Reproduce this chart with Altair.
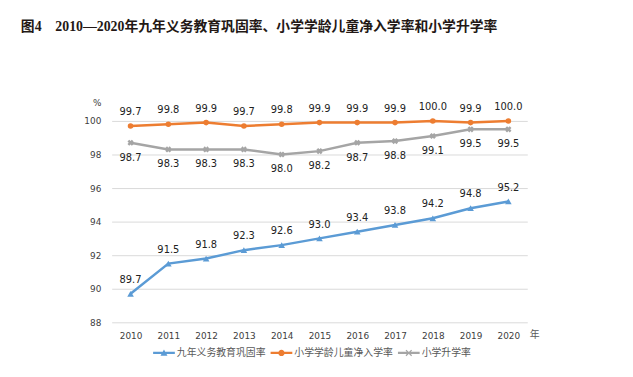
import altair as alt
import pandas as pd

years = [str(y) for y in range(2010, 2021)]
series_names = ["九年义务教育巩固率", "小学学龄儿童净入学率", "小学升学率"]
consolidation = [89.7, 91.5, 91.8, 92.3, 92.6, 93.0, 93.4, 93.8, 94.2, 94.8, 95.2]
enrollment = [99.7, 99.8, 99.9, 99.7, 99.8, 99.9, 99.9, 99.9, 100.0, 99.9, 100.0]
promotion = [98.7, 98.3, 98.3, 98.3, 98.0, 98.2, 98.7, 98.8, 99.1, 99.5, 99.5]
colors = ["#5B9BD5", "#ED7D31", "#A5A5A5"]
y_ticks = [88, 90, 92, 94, 96, 98, 100]
title_text = "图4　2010—2020年九年义务教育巩固率、小学学龄儿童净入学率和小学升学率"

rows = []
for name, vals in zip(series_names, [consolidation, enrollment, promotion]):
    for yr, v in zip(years, vals):
        rows.append({"year": yr, "series": name, "value": v})
df = pd.DataFrame(rows)

NUM_FONT = "DejaVu Sans"
CJK_FONT = "Noto Sans CJK SC"

# legend symbols: a short line with the marker in its middle
legend_paths = [
    "M-1,-0.11H1V0.11H-1Z M0,-0.32L0.32,0.26L-0.32,0.26Z",
    "M-1,-0.11H1V0.11H-1Z M-0.29,0A0.29,0.29 0 1,1 0.29,0A0.29,0.29 0 1,1 -0.29,0Z",
    "M-1,-0.11H1V0.11H-1Z M-0.3,-0.22L-0.22,-0.3L0.3,0.22L0.22,0.3Z M-0.22,0.3L-0.3,0.22L0.22,-0.3L0.3,-0.22Z",
]

color_scale = alt.Scale(domain=series_names, range=colors)
legend_def = alt.Legend(
    title=None, orient="none", legendX=42, legendY=224, direction="horizontal",
    symbolSize=484, symbolStrokeWidth=0, symbolOpacity=1, labelOffset=2,
    columnPadding=5, padding=0, labelFont=CJK_FONT, labelFontSize=10,
    labelColor="#595959", labelLimit=0,
)

base = alt.Chart(df).encode(
    x=alt.X(
        "year:O",
        scale=alt.Scale(type="point", padding=0.5),
        axis=alt.Axis(
            title="年", labelAngle=0, ticks=False, domain=False, grid=False,
            labelFont=NUM_FONT, labelFontSize=9, labelColor="#404040", labelPadding=9,
            titleFont=CJK_FONT, titleFontSize=10, titleFontWeight="normal", titleColor="#595959",
            titleX=428, titleY=12, titleAlign="center", titleBaseline="middle",
        ),
    ),
    y=alt.Y(
        "value:Q",
        scale=alt.Scale(domain=[88, 100], nice=False, zero=False),
        axis=alt.Axis(
            values=y_ticks, title="%", ticks=False, domain=False, grid=True,
            gridColor="#D9D9D9", gridWidth=1,
            labelFont=NUM_FONT, labelFontSize=9, labelColor="#404040", labelPadding=11,
            titleFont=NUM_FONT, titleFontSize=9, titleFontWeight="normal", titleColor="#404040",
            titleAngle=0, titleX=-15, titleY=-19, titleAlign="center", titleBaseline="middle",
        ),
    ),
    color=alt.Color("series:N", scale=color_scale, legend=legend_def),
)

legend_layer = base.mark_point(filled=True, opacity=0).encode(
    shape=alt.Shape("series:N", scale=alt.Scale(domain=series_names, range=legend_paths), legend=legend_def),
)

lines = base.mark_line(strokeWidth=2.5)

marker_specs = [("triangle-up", 45, 0), ("circle", 32, 0), ("cross", 40, 45)]
markers = []
for name, (shape, size, angle) in zip(series_names, marker_specs):
    markers.append(
        base.transform_filter(alt.datum.series == name).mark_point(
            shape=shape, size=size, angle=angle, filled=True, opacity=1
        )
    )

labels_above = base.transform_filter(
    alt.FieldOneOfPredicate(field="series", oneOf=series_names[:2])
).mark_text(dy=-14, font=NUM_FONT, fontSize=10).encode(
    text=alt.Text("value:Q", format=".1f"), color=alt.value("#222222")
)
labels_below = base.transform_filter(alt.datum.series == series_names[2]).mark_text(
    dy=15, font=NUM_FONT, fontSize=10
).encode(text=alt.Text("value:Q", format=".1f"), color=alt.value("#222222"))

chart = alt.layer(legend_layer, lines, *markers, labels_above, labels_below).properties(
    width=421,
    height=204,
    autosize=alt.AutoSizeParams(type="none"),
    padding={"left": 105, "top": 112, "right": 99, "bottom": 53},
    title=alt.TitleParams(
        text=title_text, anchor="start", frame="group", dx=-92, offset=65,
        font="Liberation Serif, Noto Sans CJK SC", fontSize=14, fontWeight="bold",
        color="#231815",
    ),
).configure_view(stroke=None)

chart.save("out.html", embed_options={"renderer": "svg", "actions": False})
